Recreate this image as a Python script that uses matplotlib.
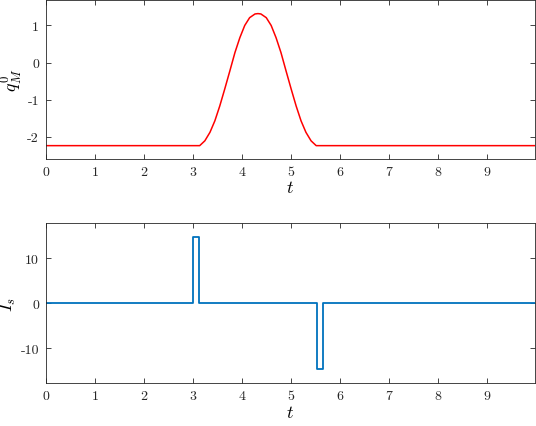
import matplotlib
matplotlib.use("Agg")
import matplotlib.pyplot as plt

plt.rcParams["font.family"] = "cmr10"
plt.rcParams["mathtext.fontset"] = "cm"
plt.rcParams["axes.unicode_minus"] = False
plt.rcParams["axes.formatter.use_mathtext"] = True

# q_M^0 (t)
t_q = [0.0, 3.14, 3.245, 3.35, 3.45, 3.55, 3.65, 3.755, 3.86, 3.96, 4.06, 4.16, 4.27,
       4.33, 4.39, 4.50, 4.60, 4.70, 4.80, 4.905, 5.01, 5.11, 5.21, 5.31, 5.415, 5.52, 9.99]
q = [-2.24, -2.24, -2.11, -1.88, -1.57, -1.17, -0.72, -0.23, 0.27, 0.67, 1.0, 1.21, 1.31,
     1.32, 1.31, 1.21, 1.0, 0.67, 0.27, -0.23, -0.72, -1.17, -1.57, -1.88, -2.11, -2.24, -2.24]

# I_s (t), piecewise constant
t_i = [0.0, 3.0, 3.0, 3.12, 3.12, 5.54, 5.54, 5.66, 5.66, 9.99]
i_s = [0.0, 0.0, 14.7, 14.7, 0.0, 0.0, -14.7, -14.7, 0.0, 0.0]

xticks = [0, 1, 2, 3, 4, 5, 6, 7, 8, 9]
yticks_q = [-2, -1, 0, 1]
yticks_i = [-10, 0, 10]

fig = plt.figure(figsize=(5.36, 4.27), dpi=100)
ax1 = fig.add_axes([46 / 536, 1 - 160 / 427, (535 - 46) / 536, 159.5 / 427])
ax2 = fig.add_axes([46 / 536, 1 - 384.3 / 427, (535 - 46) / 536, 160 / 427])

ax1.plot(t_q, q, color=(1, 0, 0), linewidth=1.1)
ax2.plot(t_i, i_s, color=(0, 0.447, 0.741), linewidth=1.3)

for ax, yt in [(ax1, yticks_q), (ax2, yticks_i)]:
    ax.set_xlim(0, 9.99)
    ax.set_xticks(xticks)
    ax.set_xticklabels([str(v) for v in xticks])
    ax.set_yticks(yt)
    ax.set_yticklabels([str(v) for v in yt])
    ax.tick_params(direction="in", length=3.5, width=0.6, top=True, right=True,
                   labelsize=10, colors=(0.15, 0.15, 0.15), pad=5)
    for s in ax.spines.values():
        s.set_color((0.15, 0.15, 0.15))
        s.set_linewidth(0.6)
    ax.set_xlabel("$t$", fontsize=13, labelpad=1)

ax1.set_ylim(-2.6, 1.7)
ax2.set_ylim(-17.8, 17.8)
ax1.set_ylabel("$q_M^0$", fontsize=13, labelpad=2)
ax2.set_ylabel("$I_s$", fontsize=13, labelpad=2)

fig.savefig("out.png", dpi=100)
